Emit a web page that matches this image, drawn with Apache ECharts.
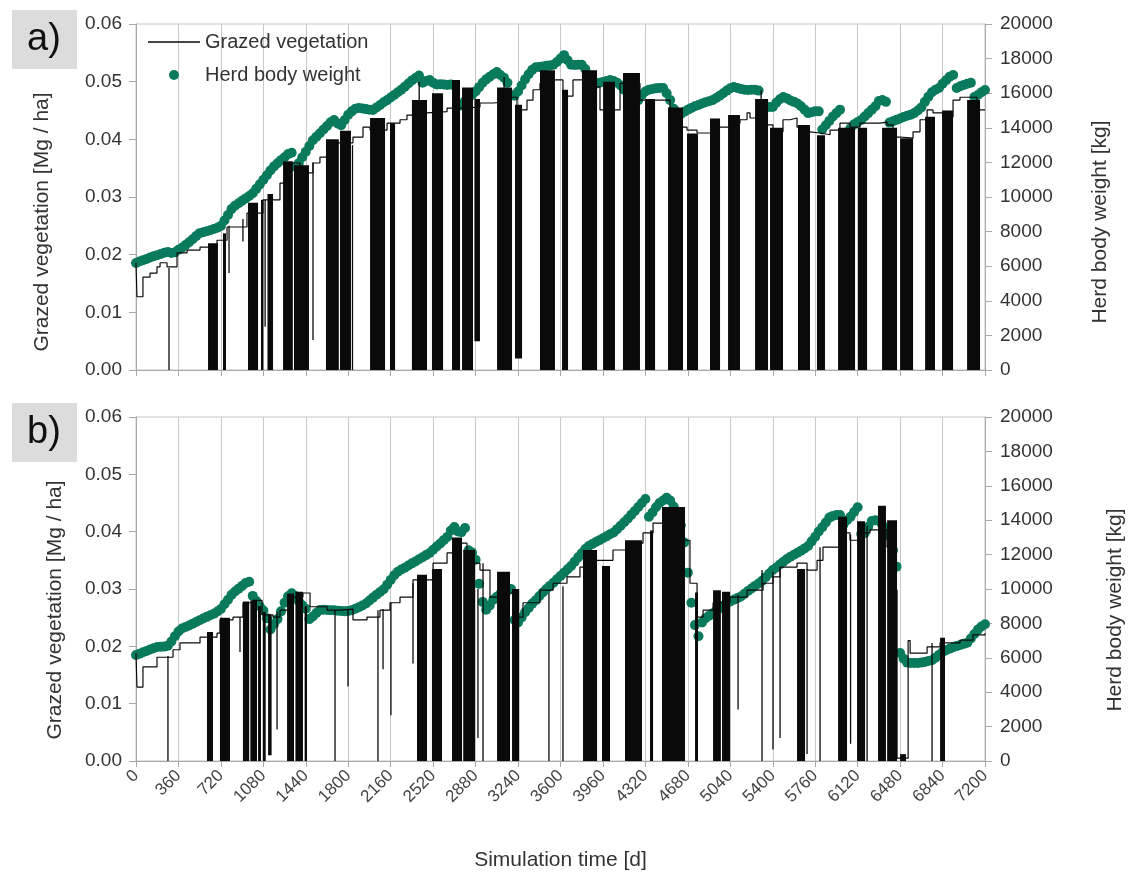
<!DOCTYPE html>
<html>
<head>
<meta charset="utf-8">
<script src="https://cdn.jsdelivr.net/npm/echarts@6/dist/echarts.min.js"></script>
<style>
  html, body { margin: 0; padding: 0; background: #ffffff; }
  #chart { width: 1128px; height: 873px; }
</style>
</head>
<body>
<div id="chart"></div>
<script>
// ---------------------------------------------------------------
// Herd body weight [kg], one reading every 30 days (day 0 .. 7200)
// ---------------------------------------------------------------
const WEIGHT_STEP = 30;

const weightA = [
  6190, 6270, 6350, 6420, 6500, 6570, 6640, 6710, 6780, 6820, 6770, 6800,
  6950, 7070, 7220, 7380, 7560, 7740, 7910, 7960, 8020, 8080, 8150, 8220,
  8330, 8640, 8960, 9300, 9500, 9640, 9780, 9920, 10060, 10220, 10470, 10730,
  11000, 11260, 11530, 11770, 11950, 12130, 12300, 12480, 12560, 11750, 11950, 12300,
  12620, 12950, 13280, 13480, 13690, 13900, 14100, 14320, 14450, 14250, 14150, 14450,
  14750, 14950, 15100, 15150, 15120, 15080, 15050, 15030, 15180, 15320, 15480, 15600,
  15750, 15900, 16050, 16200, 16380, 16560, 16740, 16880, 17020, 16600, 16700, 16760,
  16600, 16500, 16520, 16500, 16480, 16500, 16450, 15250, 15300, 15550, 15730, 15900,
  16100, 16350, 16600, 16800, 16950, 17100, 17220, 17050, 16900, 16600, 15900, 15850,
  16100, 16450, 16800, 17100, 17350, 17500, 17520, 17550, 17580, 17600, 17640, 17800,
  18000, 18200, 17900, 17650, 17630, 17650, 17640, 17400, 16900, 16600, 16550, 16600,
  16650, 16700, 16760, 16700, 16600, 16450, 16200, 15950, 15500, 15250, 15600, 15900,
  16100, 16200, 16250, 16280, 16300, 16300, 16000, 15600, 15100, 14620, 14780, 14930,
  15050, 15150, 15250, 15320, 15400, 15480, 15530, 15600, 15720, 15850, 16000, 16150,
  16280, 16360, 16300, 16250, 16200, 16180, 16200, 16200, 16150, 15300, 15200, 15200,
  15200, 15450, 15650, 15780, 15700, 15580, 15500, 15400, 15250, 15050, 14850, 14900,
  14950, 14950, 13900, 14150, 14400, 14650, 14850, 15050, 13480, 13750, 13980, 14200,
  14330, 14450, 14650, 14850, 15050, 15250, 15550, 15600, 15500, 14300, 14380, 14460,
  14540, 14620, 14700, 14760, 14850, 15000, 15180, 15500, 15800, 16060, 16200, 16300,
  16550, 16750, 16950, 17050, 16300, 16400, 16480, 16550, 16600, 15780, 15900, 16050,
  16180
];

const weightB = [
  6160, 6240, 6320, 6400, 6480, 6560, 6630, 6640, 6650, 6700, 6950, 7250,
  7530, 7700, 7790, 7880, 7980, 8080, 8190, 8290, 8380, 8470, 8560, 8690,
  8840, 9110, 9380, 9660, 9850, 10020, 10180, 10350, 10420, 9600, 9300, 9000,
  8750, 8300, 7650, 7950, 8250, 8700, 9200, 9580, 9750, 9600, 9300, 9050,
  8850, 8250, 8400, 8600, 8780, 8790, 8780, 8770, 8760, 8740, 8720, 8700,
  8720, 8770, 8850, 8940, 9040, 9160, 9330, 9500, 9670, 9830, 9990, 10250,
  10530, 10800, 11000, 11130, 11240, 11370, 11490, 11600, 11730, 11850, 11970, 12090,
  12280, 12470, 12650, 12840, 13030, 13400, 13600, 13350, 13300, 13550, 12250, 12120,
  11700, 10300, 9250, 8800, 9050, 9380, 9550, 9700, 9800, 9900, 10000, 8200,
  8050, 8350, 8650, 8900, 9150, 9350, 9580, 9800, 10000, 10180, 10360, 10560,
  10760, 10950, 11150, 11340, 11590, 11840, 12080, 12320, 12500, 12620, 12730, 12840,
  12950, 13060, 13180, 13280, 13480, 13680, 13880, 14080, 14310, 14540, 14770, 15000,
  15230, 14200, 14450, 14750, 15000, 15150, 15300, 15150, 14800, 14300, 13700, 12700,
  10950, 9200, 7900, 7250, 8050, 8300, 8450, 8580, 8730, 8880, 9030, 9180,
  9280, 9380, 9470, 9560, 9720, 9880, 10030, 10180, 10320, 10480, 10690, 10900,
  11100, 11250, 11420, 11580, 11740, 11870, 11990, 12110, 12230, 12360, 12500, 12770,
  13040, 13340, 13590, 13870, 14150, 14250, 14300, 14300, 13750, 14000, 14200, 14480,
  14750, 13200, 13250, 13620, 13950, 14000, 13950, 13700, 13450, 13100, 12250, 11300,
  6280, 5950, 5720, 5700, 5700, 5700, 5720, 5760, 5810, 5860, 6000, 6170,
  6330, 6440, 6530, 6610, 6680, 6750, 6810, 6870, 7120, 7380, 7640, 7820,
  7950
];

// ---------------------------------------------------------------
// Grazed vegetation [Mg/ha]: stepwise standing level, [day, value]
// (each value holds until the next day listed)
// ---------------------------------------------------------------
const vegA = [
  [0, 0.0186], [8, 0.0127], [59, 0.0161], [119, 0.0168], [178, 0.0179], [204, 0.0186],
  [263, 0.0179], [348, 0.0203], [433, 0.0208], [543, 0.0213], [687, 0.0225], [772, 0.0248],
  [941, 0.0272], [1077, 0.0295], [1221, 0.0324], [1281, 0.0359], [1391, 0.0347], [1450, 0.0342],
  [1501, 0.0359], [1560, 0.0369], [1671, 0.0394], [1840, 0.0404], [1925, 0.0421], [1985, 0.0416],
  [2129, 0.0428], [2239, 0.0434], [2298, 0.0442], [2349, 0.0446], [2468, 0.0448], [2638, 0.0454],
  [2773, 0.0456], [2917, 0.0463], [3028, 0.0465], [3146, 0.0473], [3231, 0.0451], [3316, 0.0468],
  [3367, 0.0486], [3426, 0.0497], [3486, 0.0508], [3537, 0.0503], [3621, 0.0475], [3706, 0.0503],
  [3825, 0.0491], [3935, 0.0451], [4105, 0.0497], [4274, 0.0468], [4529, 0.0451], [4614, 0.0421],
  [4673, 0.0416], [4758, 0.0411], [4894, 0.0421], [5038, 0.0428], [5122, 0.0434], [5182, 0.0446],
  [5207, 0.0437], [5292, 0.0440], [5351, 0.0425], [5402, 0.0413], [5487, 0.0434], [5547, 0.0437],
  [5606, 0.0421], [5657, 0.0413], [5716, 0.0411], [5801, 0.0408], [5886, 0.0416], [5970, 0.0428],
  [6055, 0.0421], [6140, 0.0428], [6310, 0.0430], [6369, 0.0425], [6420, 0.0404], [6480, 0.0402],
  [6590, 0.0413], [6649, 0.0434], [6709, 0.0451], [6759, 0.0446], [6844, 0.0439], [6929, 0.0468],
  [6988, 0.0473], [7132, 0.0451], [7200, 0.0451]
];

const vegB = [
  [0, 0.0188], [8, 0.0129], [59, 0.0164], [178, 0.0181], [314, 0.0194], [373, 0.0206],
  [543, 0.0216], [687, 0.0223], [712, 0.0246], [823, 0.0251], [907, 0.0276], [992, 0.0280],
  [1069, 0.0255], [1162, 0.0251], [1221, 0.0263], [1332, 0.0286], [1416, 0.0293], [1476, 0.0269],
  [1620, 0.0263], [1730, 0.0265], [1840, 0.0246], [1959, 0.0251], [2069, 0.0263], [2154, 0.0276],
  [2239, 0.0286], [2349, 0.0316], [2519, 0.0345], [2638, 0.0363], [2722, 0.0380], [2807, 0.0345],
  [2917, 0.0333], [3002, 0.0286], [3113, 0.0293], [3231, 0.0251], [3282, 0.0276], [3426, 0.0298],
  [3537, 0.0310], [3655, 0.0321], [3765, 0.0338], [3876, 0.0350], [4045, 0.0368], [4215, 0.0380],
  [4300, 0.0398], [4385, 0.0415], [4554, 0.0420], [4614, 0.0385], [4698, 0.0310], [4758, 0.0251],
  [4809, 0.0263], [4894, 0.0276], [5038, 0.0286], [5182, 0.0298], [5318, 0.0310], [5402, 0.0321],
  [5462, 0.0338], [5606, 0.0345], [5691, 0.0333], [5776, 0.0350], [5826, 0.0373], [5970, 0.0398],
  [6055, 0.0385], [6140, 0.0398], [6225, 0.0403], [6369, 0.0373], [6412, 0.0298], [6454, 0.0005],
  [6548, 0.0210], [6565, 0.0188], [6709, 0.0199], [6819, 0.0206], [6988, 0.0211], [7098, 0.0220],
  [7200, 0.0223]
];

// ---------------------------------------------------------------
// Grazing bouts: [first day, last day, lowest value, highest value]
// The vegetation is cropped down repeatedly during a bout.
// ---------------------------------------------------------------
const boutsA = [
  [280, 280, 0, 0.0177],
  [611, 695, 0, 0.022],
  [738, 763, 0, 0.0237], [789, 789, 0.0168, 0.025], [907, 907, 0.0223, 0.0262],
  [950, 1035, 0, 0.029],
  [1060, 1080, 0, 0.0295], [1095, 1095, 0.0075, 0.0295], [1115, 1162, 0, 0.0305],
  [1247, 1330, 0, 0.0362], [1340, 1467, 0, 0.0355],
  [1501, 1501, 0.0052, 0.036],
  [1611, 1720, 0, 0.040], [1730, 1823, 0, 0.0415],
  [1832, 1840, 0, 0.039],
  [1985, 2112, 0, 0.0437],
  [2154, 2197, 0, 0.0428],
  [2340, 2468, 0, 0.0468], [2400, 2403, 0, 0.050],
  [2510, 2604, 0, 0.048],
  [2680, 2748, 0, 0.0503],
  [2765, 2858, 0, 0.049],
  [2870, 2917, 0.005, 0.047],
  [3062, 3189, 0, 0.049], [3120, 3123, 0, 0.0508],
  [3214, 3274, 0.002, 0.046],
  [3426, 3553, 0, 0.052],
  [3613, 3664, 0, 0.0486],
  [3782, 3910, 0, 0.052],
  [3961, 4062, 0, 0.050],
  [4130, 4274, 0, 0.0515],
  [4317, 4402, 0, 0.047],
  [4512, 4639, 0, 0.0455],
  [4673, 4766, 0, 0.041],
  [4868, 4953, 0, 0.0436],
  [5021, 5122, 0, 0.0442],
  [5250, 5360, 0, 0.047], [5300, 5303, 0, 0.0485],
  [5377, 5487, 0, 0.042],
  [5614, 5716, 0, 0.0425],
  [5775, 5843, 0, 0.0407],
  [5954, 6098, 0, 0.042],
  [6123, 6200, 0, 0.042],
  [6327, 6454, 0, 0.042],
  [6480, 6590, 0, 0.0402],
  [6692, 6776, 0, 0.0439],
  [6836, 6929, 0, 0.045],
  [7048, 7158, 0, 0.0468]
];

const boutsB = [
  [271, 271, 0, 0.0183],
  [602, 653, 0, 0.0225], [712, 797, 0, 0.025],
  [882, 882, 0.019, 0.0251],
  [907, 960, 0, 0.0278], [970, 1026, 0, 0.028],
  [1035, 1060, 0, 0.027], [1075, 1100, 0, 0.026], [1120, 1150, 0.001, 0.0255],
  [1196, 1196, 0.0055, 0.026],
  [1281, 1340, 0, 0.0292], [1352, 1416, 0, 0.0295], [1430, 1450, 0, 0.027],
  [1688, 1688, 0, 0.0263], [1798, 1798, 0.013, 0.0265],
  [2052, 2052, 0, 0.0263], [2095, 2095, 0.016, 0.0265], [2162, 2162, 0.008, 0.0276],
  [2349, 2349, 0.017, 0.031], [2383, 2468, 0, 0.0325], [2510, 2595, 0, 0.0335],
  [2680, 2765, 0, 0.039], [2775, 2875, 0, 0.0368],
  [2900, 2900, 0.004, 0.030], [2943, 2943, 0, 0.0345],
  [3062, 3172, 0, 0.033], [3189, 3250, 0, 0.030],
  [3502, 3502, 0, 0.0293], [3621, 3621, 0, 0.0305],
  [3791, 3910, 0, 0.0368], [3952, 4020, 0, 0.034],
  [4147, 4291, 0, 0.0385], [4359, 4385, 0, 0.0402],
  [4461, 4656, 0, 0.0443],
  [4741, 4766, 0, 0.0294],
  [4894, 4960, 0, 0.0298], [4970, 5038, 0, 0.0295],
  [5106, 5106, 0.009, 0.029],
  [5309, 5309, 0, 0.0333], [5402, 5402, 0.002, 0.033], [5462, 5462, 0.004, 0.0335],
  [5606, 5674, 0, 0.0335], [5691, 5691, 0.0012, 0.0335], [5801, 5801, 0, 0.0373],
  [5954, 6030, 0, 0.0426], [6060, 6060, 0.003, 0.0395], [6115, 6183, 0, 0.0418], [6200, 6200, 0, 0.041],
  [6293, 6360, 0, 0.0445], [6370, 6454, 0, 0.042],
  [6480, 6530, 0, 0.0012],
  [6751, 6751, 0, 0.0206], [6819, 6861, 0, 0.0215]
];

// ---------------------------------------------------------------
const FONT = '"Liberation Sans", Arial, sans-serif';
const TEXT = '#333333';
const AXIS_GREY = '#a8a8a8';
const GRID_GREY = '#c8c8c8';
const GREEN = '#0a7a5d';
const BLACK = '#0a0a0a';

const withDays = arr => arr.map((v, i) => [i * WEIGHT_STEP, v]);

const gridBox = (top, height) => ({
  left: 136, width: 849, top, height,
  show: true, borderColor: '#c4c4c4', borderWidth: 1, backgroundColor: 'transparent'
});

const xAxisFor = (gridIndex, withLabels) => ({
  gridIndex, type: 'value', min: 0, max: 7200, interval: 360,
  axisLine: { show: true, onZero: false, lineStyle: { color: AXIS_GREY } },
  axisTick: { show: true, length: 6, lineStyle: { color: AXIS_GREY } },
  splitLine: { show: true, lineStyle: { color: GRID_GREY, width: 1 } },
  axisLabel: { show: withLabels, rotate: 45, margin: 12, fontFamily: FONT, fontSize: 17, color: '#444',
               formatter: v => String(v) },
  name: withLabels ? 'Simulation time [d]' : '',
  nameLocation: 'middle', nameGap: 89,
  nameTextStyle: { fontFamily: FONT, fontSize: 21, color: TEXT }
});

const vegAxis = gridIndex => ({
  gridIndex, type: 'value', position: 'left', min: 0, max: 0.06, interval: 0.01,
  axisLine: { show: true, lineStyle: { color: AXIS_GREY } },
  axisTick: { show: true, length: 7, lineStyle: { color: AXIS_GREY } },
  splitLine: { show: false },
  axisLabel: { margin: 14, fontFamily: FONT, fontSize: 19, color: TEXT, formatter: v => v.toFixed(2) }
});

const weightAxis = gridIndex => ({
  gridIndex, type: 'value', position: 'right', min: 0, max: 20000, interval: 2000,
  axisLine: { show: true, lineStyle: { color: AXIS_GREY } },
  axisTick: { show: true, length: 7, lineStyle: { color: AXIS_GREY } },
  splitLine: { show: false },
  axisLabel: { margin: 15, fontFamily: FONT, fontSize: 19, color: TEXT, formatter: v => String(v) }
});

// A bout is drawn as the solid band swept by the repeated drops of the line
function renderBout(params, api) {
  const a = api.coord([api.value(0), api.value(3)]);
  const b = api.coord([api.value(1), api.value(2)]);
  const raw = b[0] - a[0];
  const w = Math.max(raw, 1.3);
  const x = raw < 1.3 ? a[0] - (1.3 - raw) / 2 : a[0];
  return {
    type: 'rect',
    shape: { x, y: a[1], width: w, height: b[1] - a[1] },
    style: { fill: BLACK }
  };
}

const panelSeries = (xi, yVeg, yWt, veg, bouts, weight) => [
  {
    name: 'Herd body weight', type: 'scatter',
    xAxisIndex: xi, yAxisIndex: yWt, data: withDays(weight),
    symbol: 'circle', symbolSize: 10, itemStyle: { color: GREEN, opacity: 1 },
    z: 2, silent: true
  },
  {
    name: 'Grazed vegetation', type: 'line', step: 'end',
    xAxisIndex: xi, yAxisIndex: yVeg, data: veg,
    showSymbol: false, symbol: 'none',
    lineStyle: { color: BLACK, width: 1.2 }, itemStyle: { color: BLACK },
    z: 3, silent: true
  },
  {
    name: 'bouts', type: 'custom',
    xAxisIndex: xi, yAxisIndex: yVeg, data: bouts,
    encode: { x: [0, 1], y: [2, 3] },
    renderItem: renderBout, z: 4, silent: true
  }
];

const tagBox = (y, label) => [
  { type: 'rect', shape: { x: 12, y: y, width: 65, height: 59 }, style: { fill: '#dcdcdc' } },
  { type: 'text', x: 44, y: y + 30,
    style: { text: label, font: '38px "Liberation Sans", Arial, sans-serif', fill: '#111',
             align: 'center', verticalAlign: 'middle', textAlign: 'center', textVerticalAlign: 'middle' } }
];

const sideTitle = (x, y, text) => ({
  type: 'text', x, y, rotation: Math.PI / 2,
  style: { text, font: '21px "Liberation Sans", Arial, sans-serif', fill: TEXT,
           align: 'center', verticalAlign: 'middle', textAlign: 'center', textVerticalAlign: 'middle' }
});

const chart = echarts.init(document.getElementById('chart'), null, { renderer: 'canvas' });

chart.setOption({
  backgroundColor: '#ffffff',
  animation: false,
  grid: [gridBox(24, 346), gridBox(417, 344)],
  xAxis: [xAxisFor(0, false), xAxisFor(1, true)],
  yAxis: [vegAxis(0), weightAxis(0), vegAxis(1), weightAxis(1)],
  legend: {
    left: 148, top: 31, orient: 'vertical', padding: 0,
    itemWidth: 52, itemHeight: 10, itemGap: 11,
    textStyle: { fontFamily: FONT, fontSize: 20, color: TEXT, lineHeight: 22 },
    data: [
      { name: 'Grazed vegetation', icon: 'path://M0,0H52V1.3H0Z' },
      { name: 'Herd body weight', icon: 'circle' }
    ],
    selectedMode: false
  },
  series: [
    ...panelSeries(0, 0, 1, vegA, boutsA, weightA),
    ...panelSeries(1, 2, 3, vegB, boutsB, weightB)
  ],
  graphic: [
    ...tagBox(10, 'a)'),
    ...tagBox(403, 'b)'),
    sideTitle(42, 222, 'Grazed vegetation [Mg / ha]'),
    sideTitle(1100, 222, 'Herd body weight [kg]'),
    sideTitle(55, 610, 'Grazed vegetation [Mg / ha]'),
    sideTitle(1115, 610, 'Herd body weight [kg]')
  ]
});
</script>
</body>
</html>
